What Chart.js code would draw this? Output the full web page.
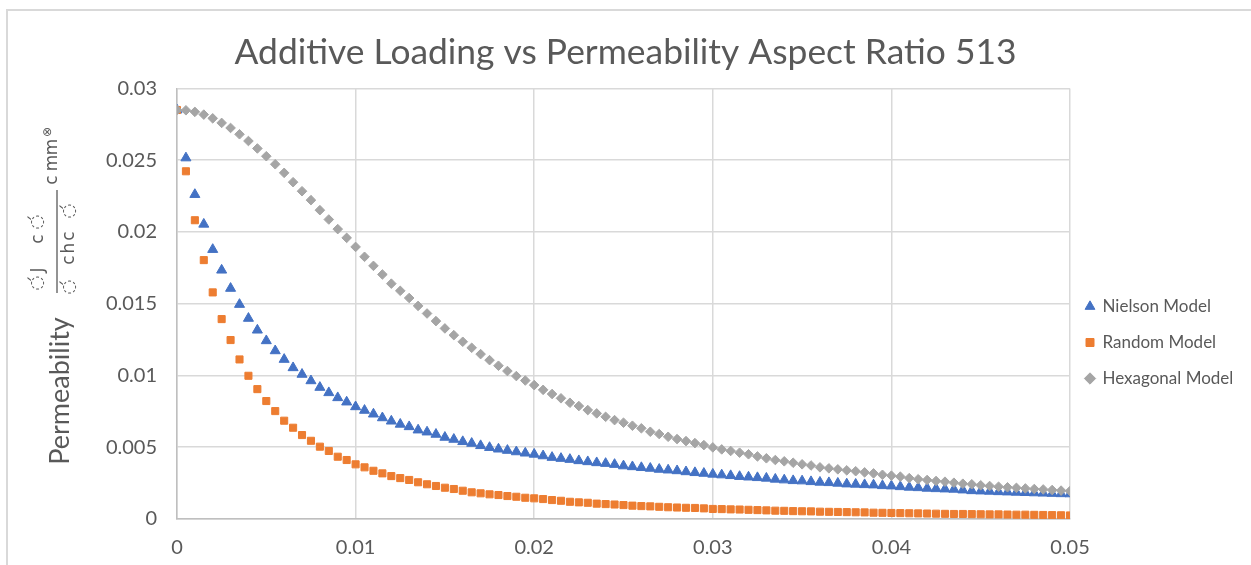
<!DOCTYPE html>
<html><head><meta charset="utf-8">
<script src="https://cdn.jsdelivr.net/npm/chart.js@4.4.1/dist/chart.umd.min.js"></script>
<style>
html,body{margin:0;padding:0;background:#fff;}
#wrap{position:relative;width:1251px;height:565px;overflow:hidden;}
#frame{position:absolute;left:6px;top:9px;right:-10px;bottom:-10px;border-left:2px solid #d9d9d9;border-top:2px solid #d9d9d9;}
canvas{position:absolute;left:0;top:0;}
</style></head><body>
<div id="wrap"><div id="frame"></div><canvas id="c" width="1251" height="565"></canvas></div>
<script>
const chartTitle = 'Additive Loading vs Permeability Aspect Ratio 513';
const yAxisTitle = 'Permeability';
const seriesNames = ['Nielson Model', 'Random Model', 'Hexagonal Model'];
const xTickLabels = ['0', '0.01', '0.02', '0.03', '0.04', '0.05'];
const yTickLabels = ['0', '0.005', '0.01', '0.015', '0.02', '0.025', '0.03'];

const additiveLoading = [0, 0.0005, 0.001, 0.0015, 0.002, 0.0025, 0.003, 0.0035, 0.004, 0.0045,
  0.005, 0.0055, 0.006, 0.0065, 0.007, 0.0075, 0.008, 0.0085, 0.009, 0.0095,
  0.01, 0.0105, 0.011, 0.0115, 0.012, 0.0125, 0.013, 0.0135, 0.014, 0.0145,
  0.015, 0.0155, 0.016, 0.0165, 0.017, 0.0175, 0.018, 0.0185, 0.019, 0.0195,
  0.02, 0.0205, 0.021, 0.0215, 0.022, 0.0225, 0.023, 0.0235, 0.024, 0.0245,
  0.025, 0.0255, 0.026, 0.0265, 0.027, 0.0275, 0.028, 0.0285, 0.029, 0.0295,
  0.03, 0.0305, 0.031, 0.0315, 0.032, 0.0325, 0.033, 0.0335, 0.034, 0.0345,
  0.035, 0.0355, 0.036, 0.0365, 0.037, 0.0375, 0.038, 0.0385, 0.039, 0.0395,
  0.04, 0.0405, 0.041, 0.0415, 0.042, 0.0425, 0.043, 0.0435, 0.044, 0.0445,
  0.045, 0.0455, 0.046, 0.0465, 0.047, 0.0475, 0.048, 0.0485, 0.049, 0.0495, 0.05];

const nielsonModel = [0.0285, 0.02516, 0.02261, 0.02054, 0.01878, 0.01734, 0.01607, 0.01495, 0.01398, 0.01316,
  0.01242, 0.01172, 0.01112, 0.01054, 0.01008, 0.00963, 0.00917, 0.0088, 0.00845, 0.00815,
  0.00782, 0.00757, 0.00731, 0.00705, 0.00682, 0.0066, 0.00643, 0.0062, 0.00606, 0.0059,
  0.00569, 0.00555, 0.00539, 0.00527, 0.00511, 0.00498, 0.00487, 0.00478, 0.00468, 0.00459,
  0.00451, 0.0044, 0.00429, 0.00422, 0.00415, 0.00406, 0.00399, 0.00392, 0.00387, 0.0038,
  0.0037, 0.00364, 0.00358, 0.00353, 0.00346, 0.00341, 0.00336, 0.00329, 0.00323, 0.00318,
  0.00312, 0.00307, 0.00302, 0.00296, 0.00292, 0.00288, 0.00284, 0.00277, 0.00272, 0.00267,
  0.00265, 0.0026, 0.00256, 0.00253, 0.00249, 0.00244, 0.00242, 0.00239, 0.00237, 0.00232,
  0.0023, 0.00225, 0.00221, 0.00218, 0.00214, 0.00211, 0.00209, 0.00207, 0.00202, 0.00197,
  0.00195, 0.00193, 0.0019, 0.00188, 0.00186, 0.00184, 0.00182, 0.0018, 0.00178, 0.00176, 0.00175];

const randomModel = [0.0285, 0.02423, 0.02082, 0.01804, 0.01579, 0.01393, 0.01247, 0.01112, 0.00998, 0.00905,
  0.00822, 0.00752, 0.00685, 0.00636, 0.00585, 0.00545, 0.00504, 0.00474, 0.00434, 0.00411,
  0.00381, 0.0036, 0.00336, 0.00318, 0.00299, 0.00285, 0.00272, 0.00256, 0.00242, 0.0023,
  0.00218, 0.00209, 0.00197, 0.00186, 0.00179, 0.00172, 0.00167, 0.0016, 0.00155, 0.00148,
  0.00144, 0.00139, 0.00132, 0.00127, 0.0012, 0.00116, 0.00113, 0.00107, 0.00104, 0.00101,
  0.00097, 0.00093, 0.0009, 0.00088, 0.00085, 0.00082, 0.0008, 0.00078, 0.00077, 0.00074,
  0.0007, 0.00069, 0.00067, 0.00066, 0.00064, 0.00062, 0.0006, 0.00058, 0.00057, 0.00055,
  0.00054, 0.00053, 0.00051, 0.0005, 0.00049, 0.00048, 0.00047, 0.00046, 0.00044, 0.00043,
  0.00042, 0.00041, 0.0004, 0.00039, 0.00038, 0.00037, 0.00036, 0.00035, 0.00035, 0.00034,
  0.00033, 0.00032, 0.00032, 0.00031, 0.0003, 0.0003, 0.00029, 0.00028, 0.00027, 0.00026, 0.00025];

const hexagonalModel = [0.0285, 0.02848, 0.02837, 0.02818, 0.02792, 0.0276, 0.02725, 0.02681, 0.02634, 0.02582,
  0.02528, 0.02472, 0.02412, 0.02347, 0.02284, 0.02222, 0.02152, 0.02087, 0.0202, 0.01959,
  0.01896, 0.01827, 0.01764, 0.01704, 0.0164, 0.0159, 0.0154, 0.01485, 0.01432, 0.01379,
  0.01328, 0.01281, 0.01235, 0.01193, 0.01149, 0.01107, 0.01068, 0.01031, 0.00996, 0.00965,
  0.00933, 0.009, 0.00871, 0.00841, 0.0081, 0.00787, 0.00759, 0.00736, 0.00712, 0.00689,
  0.00671, 0.0065, 0.00632, 0.00608, 0.00592, 0.00573, 0.00557, 0.00543, 0.00529, 0.00515,
  0.00499, 0.00485, 0.00474, 0.00462, 0.00451, 0.00436, 0.00423, 0.00411, 0.00402, 0.00392,
  0.00381, 0.00373, 0.0036, 0.00353, 0.00346, 0.00339, 0.00333, 0.00325, 0.00318, 0.00308,
  0.00302, 0.00295, 0.00285, 0.00277, 0.00272, 0.00265, 0.0026, 0.00253, 0.00246, 0.00242,
  0.00235, 0.0023, 0.00225, 0.00221, 0.00217, 0.00213, 0.00209, 0.00206, 0.00202, 0.00198, 0.00195];

const TEXT = '#595959';
const FONT = 'Lato, "Open Sans", sans-serif';

function pts(arr) { return additiveLoading.map((x, i) => ({ x: x, y: arr[i] })); }

const LEGEND_SHIFT_Y = 60;
const LEGEND_SHIFT_X = -3;

const customPlugin = {
  id: 'custom',
  beforeLayout(chart) {
    const lg = chart.legend;
    if (lg && !lg._patched) {
      const orig = lg.fit;
      lg.fit = function () { orig.call(this); if (this.isHorizontal && !this.isHorizontal()) this.width = 181; };
      lg._patched = true;
    }
  },
  afterLayout(chart) {
    const lg = chart.legend;
    if (lg) { lg.top += LEGEND_SHIFT_Y; lg.bottom += LEGEND_SHIFT_Y; lg.left += LEGEND_SHIFT_X; lg.right += LEGEND_SHIFT_X; }
  },
  afterDraw(chart) {
    const ctx = chart.ctx;
    function rot(str, sx, sy, font) {
      ctx.save();
      ctx.translate(sx, sy);
      ctx.rotate(-Math.PI / 2);
      ctx.font = font;
      ctx.textAlign = 'center';
      ctx.textBaseline = 'middle';
      ctx.fillText(str, 0, 0);
      ctx.restore();
    }
    ctx.save();
    ctx.fillStyle = TEXT;
    ctx.strokeStyle = TEXT;
    rot(yAxisTitle, 60, 391, '27px ' + FONT);
    const g = '17px "DejaVu Sans"';
    // garbled equation glyphs (as rendered in the source)
    rot('\u25CC\u0301', 38, 283, g);
    rot('J', 39, 270, g);
    rot('c', 39, 239, g);
    rot('\u25CC\u0301', 38, 222, g);
    rot('\u25CC\u0301', 70, 287, g);
    rot('c', 70, 260, g);
    rot('h', 70, 248, g);
    rot('c', 70, 236, g);
    rot('\u25CC\u0301', 70, 211, g);
    rot('c', 53, 180, g);
    rot('m', 53, 163, g);
    rot('m', 53, 147, g);
    rot('\u2297', 48, 132, '12px "DejaVu Sans"');
    ctx.lineWidth = 1.3;
    ctx.beginPath();
    ctx.moveTo(57, 190);
    ctx.lineTo(57, 293);
    ctx.stroke();
    ctx.restore();
  }
};

function makeChart() {
  new Chart(document.getElementById('c'), {
    type: 'scatter',
    data: {
      datasets: [
        { label: seriesNames[0], data: pts(nielsonModel), pointStyle: 'triangle', pointRadius: 5.8,
          backgroundColor: '#4472C4', borderColor: '#4472C4', borderWidth: 1, order: 3 },
        { label: seriesNames[1], data: pts(randomModel), pointStyle: 'rect', pointRadius: 5,
          backgroundColor: '#ED7D31', borderColor: '#ED7D31', borderWidth: 1, order: 2 },
        { label: seriesNames[2], data: pts(hexagonalModel), pointStyle: 'rectRot', pointRadius: 4.8,
          backgroundColor: '#A5A5A5', borderColor: '#A5A5A5', borderWidth: 1, order: 1 }
      ]
    },
    options: {
      responsive: false,
      animation: false,
      devicePixelRatio: 1,
      layout: { padding: { left: 0, right: 0, top: 0, bottom: 0 } },
      plugins: {
        title: {
          display: true, text: chartTitle, color: TEXT,
          font: { family: FONT, size: 35.4, weight: 'normal' },
          padding: { top: 31, bottom: 15 }
        },
        legend: {
          position: 'right', align: 'center',
          labels: {
            usePointStyle: true, boxWidth: 8, boxHeight: 8, padding: 19, color: TEXT,
            font: { family: FONT, size: 17 },
            sort: (a, b) => a.datasetIndex - b.datasetIndex
          }
        },
        tooltip: { enabled: false }
      },
      scales: {
        x: {
          type: 'linear', min: 0, max: 0.05,
          afterFit: s => { s.height = 46; },
          afterBuildTicks: s => { s.ticks = xTickLabels.map(t => ({ value: parseFloat(t) })); },
          ticks: { color: TEXT, font: { family: FONT, size: 20 }, padding: 17,
            callback: (v, i) => xTickLabels[i] },
          grid: { color: '#d9d9d9', lineWidth: 1.5, drawTicks: false },
          border: { color: '#bfbfbf', width: 1.5 }
        },
        y: {
          type: 'linear', min: 0, max: 0.03,
          afterFit: s => { s.width = 177; },
          afterBuildTicks: s => { s.ticks = yTickLabels.map(t => ({ value: parseFloat(t) })); },
          ticks: { color: TEXT, font: { family: FONT, size: 20 }, padding: 20,
            callback: (v, i) => yTickLabels[i] },
          grid: { color: '#d9d9d9', lineWidth: 1.5, drawTicks: false },
          border: { color: '#bfbfbf', width: 1.5 }
        }
      }
    },
    plugins: [customPlugin]
  });
}

if (document.fonts && document.fonts.load) {
  Promise.all([document.fonts.load('20px Lato'), document.fonts.load('14px "DejaVu Sans"')])
    .then(makeChart, makeChart);
} else { makeChart(); }
</script>
</body></html>
